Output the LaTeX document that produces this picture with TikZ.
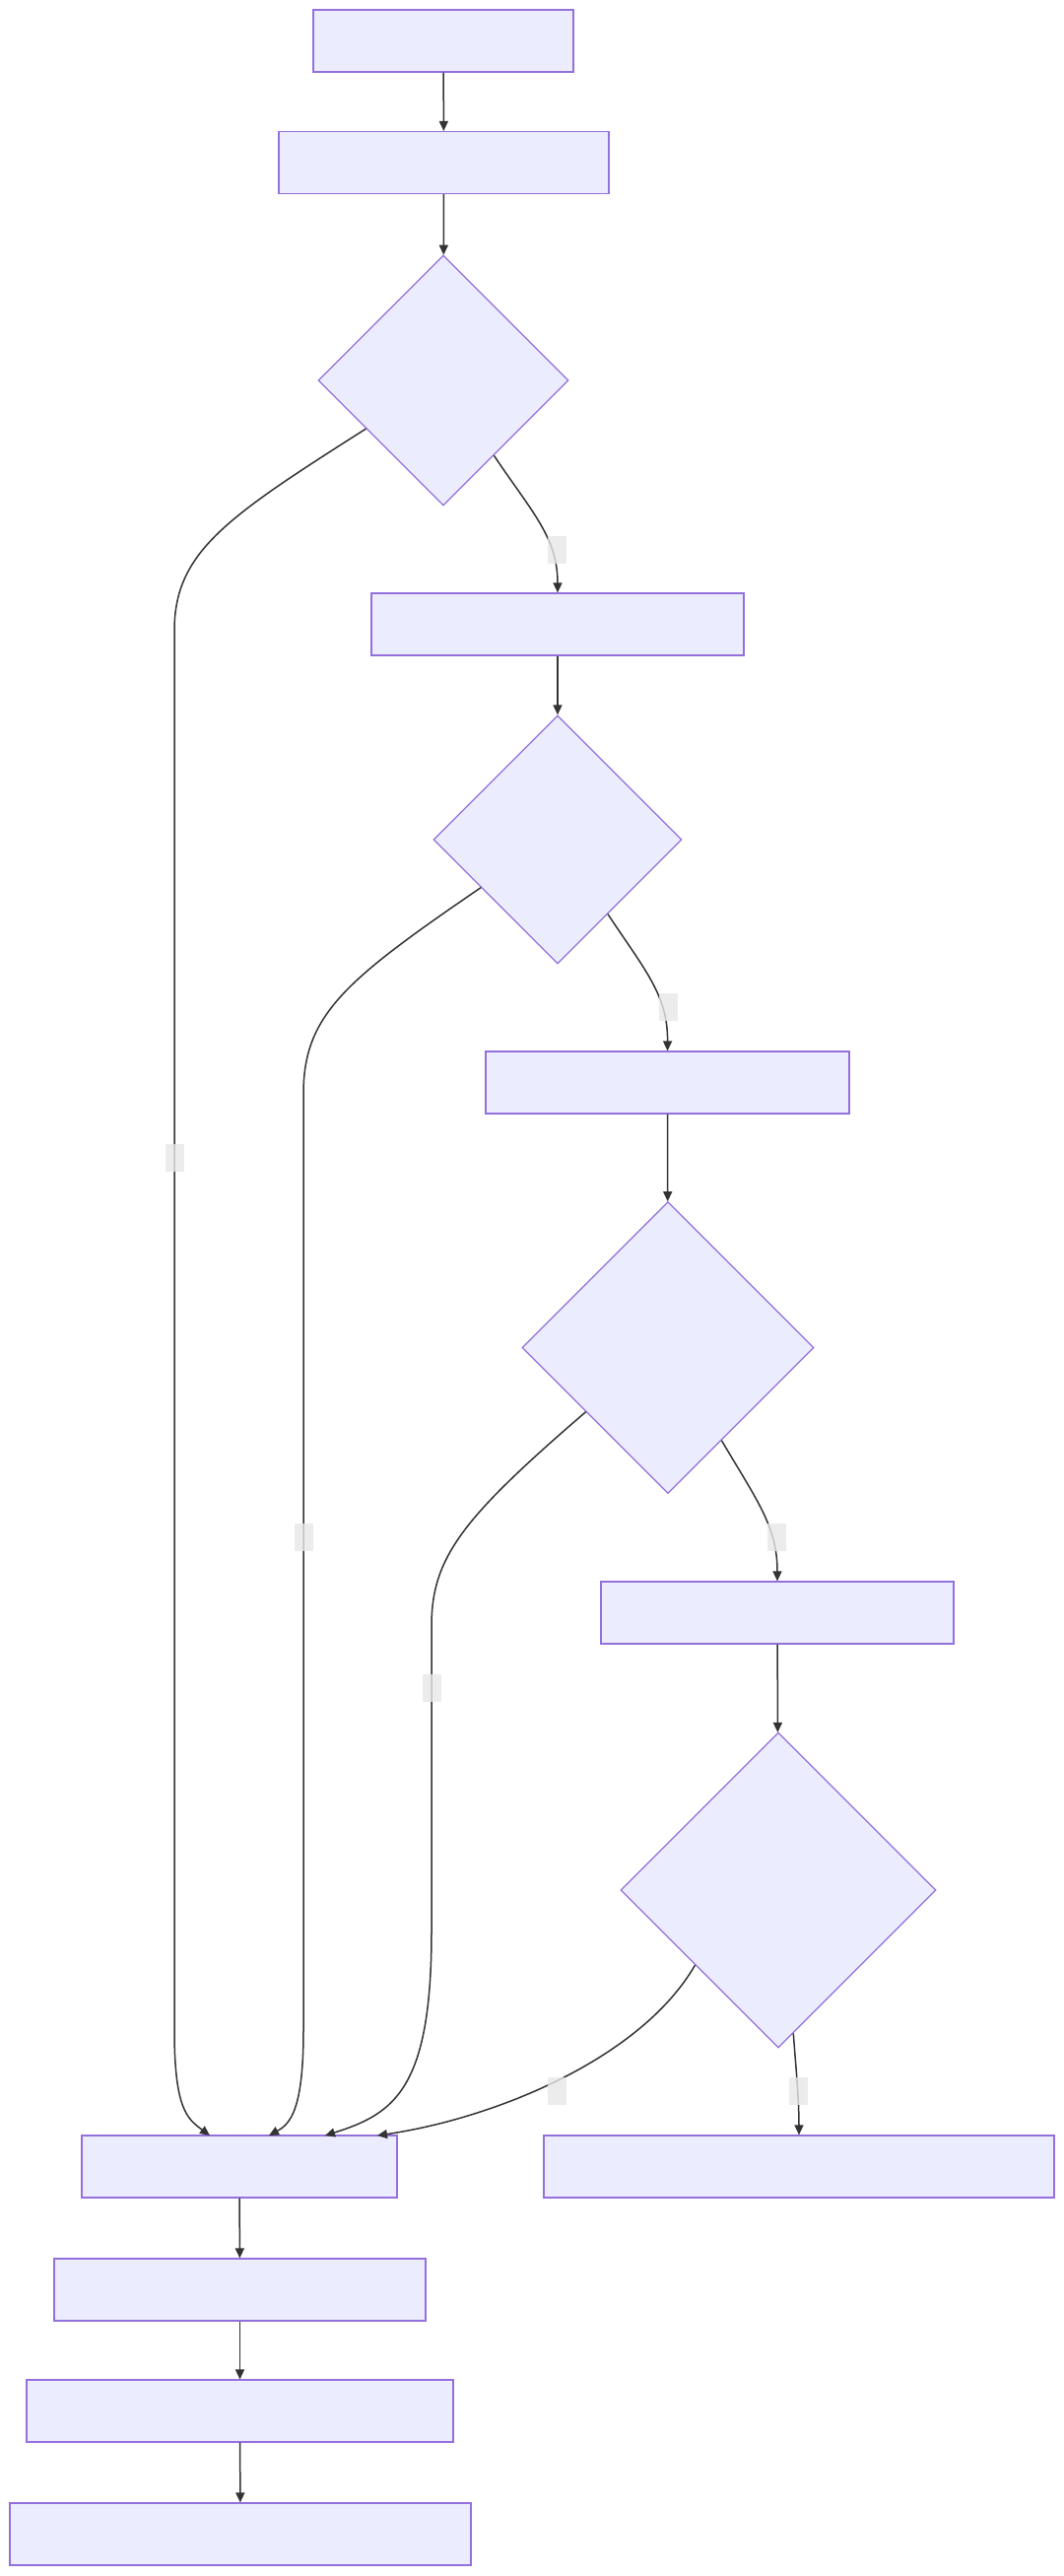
\documentclass[tikz,border=0pt]{standalone}
\usetikzlibrary{shapes.geometric,arrows.meta}
\definecolor{nfill}{HTML}{ECECFF}
\definecolor{nline}{HTML}{9370DB}
\definecolor{eline}{HTML}{333333}
\definecolor{lfill}{HTML}{E8E8E8}
\begin{document}
\begin{tikzpicture}[x=0.5pt,y=-0.5pt,
 box/.style={draw=nline,fill=nfill,line width=0.6pt,inner sep=0pt,minimum height=31.5pt},
 dec/.style={diamond,draw=nline,fill=nfill,line width=0.6pt,inner sep=0pt,aspect=1},
 edge/.style={draw=eline,line width=0.75pt,-{Triangle[length=5pt,width=4.5pt]}},
 lab/.style={fill=lfill,fill opacity=0.8,inner sep=0pt,minimum width=9.5pt,minimum height=14pt}]
\fill[white] (0,0) rectangle (1080,2614);
\useasboundingbox (0,0) rectangle (1080,2614);

% nodes
\node[box,minimum width=132pt] (b1) at (450,41.5) {};
\node[box,minimum width=167.5pt] (b2) at (450.5,165) {};
\node[dec,minimum size=127pt] (d1) at (450,386) {};
\node[box,minimum width=189pt] (b3) at (566,633.5) {};
\node[dec,minimum size=126pt] (d2) at (566,852) {};
\node[box,minimum width=184.5pt] (b4) at (677.5,1098.5) {};
\node[dec,minimum size=148pt] (d3) at (678,1367.5) {};
\node[box,minimum width=179pt] (b5) at (789,1636.5) {};
\node[dec,minimum size=160pt] (d4) at (790,1918) {};
\node[box,minimum width=160pt] (b6) at (243,2198.5) {};
\node[box,minimum width=259pt] (b10) at (811,2198.5) {};
\node[box,minimum width=188.5pt] (b7) at (243.5,2323.5) {};
\node[box,minimum width=216.5pt] (b8) at (243.5,2446.5) {};
\node[box,minimum width=234pt] (b9) at (244,2571.5) {};

% edges
\draw[edge] (b1) -- (b2);
\draw[edge] (b2) -- (d1);
\draw[edge] (d1.-56) .. controls (540,520) and (566,545) .. (b3.north);
\draw[edge] (d1.212) .. controls (230,525) and (177,560) .. (177,640) -- (177,2060) .. controls (177,2140) and (190,2150) .. (213,2167);
\draw[edge] (b3) -- (d2);
\draw[edge] (d2.-56) .. controls (655,985) and (678,1010) .. (b4.north);
\draw[edge] (d2.212) .. controls (350,995) and (308,1030) .. (308,1110) -- (308,2060) .. controls (308,2140) and (295,2155) .. (273,2167);
\draw[edge] (b4) -- (d3);
\draw[edge] (d3.-60) .. controls (770,1525) and (789,1550) .. (b5.north);
\draw[edge] (d3.218) .. controls (470,1540) and (438,1580) .. (438,1650) -- (438,1960) .. controls (438,2120) and (400,2145) .. (330,2167);
\draw[edge] (b5) -- (d4);
\draw[edge] (d4.222) .. controls (650,2090) and (500,2150) .. (383,2167);
\draw[edge] (d4.-84) .. controls (808,2100) and (811,2130) .. (b10.north);
\draw[edge] (b6) -- (b7);
\draw[edge] (b7) -- (b8);
\draw[edge] (b8) -- (b9);

% edge labels
\node[lab] (l1) at (565.5,558) {};
\node[lab] (l2) at (177,1175) {};
\node[lab] (l3) at (678,1022) {};
\node[lab] (l4) at (308,1560) {};
\node[lab] (l5) at (788,1560) {};
\node[lab] (l6) at (438,1713) {};
\node[lab] (l7) at (565,2122) {};
\node[lab] (l8) at (810,2122) {};
\end{tikzpicture}
\end{document}
